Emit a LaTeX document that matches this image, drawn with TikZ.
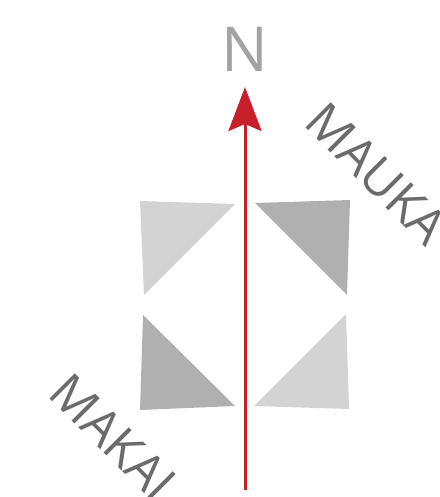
\documentclass[tikz,border=0pt]{standalone}
\usepackage{fontspec}
\setmainfont{Open Sans}
\usetikzlibrary{arrows.meta}
\definecolor{lightg}{HTML}{D3D3D3}
\definecolor{darkg}{HTML}{B1B0B1}
\definecolor{redN}{HTML}{C8202A}
\definecolor{ngray}{HTML}{A3A3A3}
\definecolor{tgray}{HTML}{6B6B6B}
\tikzset{
  lighttri/.style={fill=lightg, draw=none},
  darktri/.style={fill=darkg, draw=none},
  dirlabel/.style={text=tgray, font=\fontsize{50}{50}\selectfont, inner sep=0pt, rotate=-45, anchor=base west},
  northarrow/.style={draw=redN, line width=3pt, -{Stealth[length=44pt, width=33pt, inset=7pt, fill=redN]}}
}
\begin{document}
\begin{tikzpicture}[x=1pt,y=-1pt]
\useasboundingbox (0,0) rectangle (439,497);
% quadrants
\fill[lighttri] (140,201) -- (235,204) -- (144,295) -- cycle;
\fill[darktri] (255,203) -- (350,200) -- (347,295) -- cycle;
\fill[darktri] (143,315) -- (235,406) -- (140,410) -- cycle;
\fill[lighttri] (346,314) -- (349,409) -- (254,406) -- cycle;
% north arrow
\coordinate (s) at (245,490);
\coordinate (t) at (245,87);
\draw[northarrow] (s) -- (t);
\node[text=ngray, font=\fontsize{62}{62}\selectfont, inner sep=0pt, anchor=base] (n) at (245,72) {N};
\node[dirlabel] (mauka) at (302,124) {MAUKA};
\node[dirlabel] (makai) at (46,395) {MAKAI};
\end{tikzpicture}
\end{document}
